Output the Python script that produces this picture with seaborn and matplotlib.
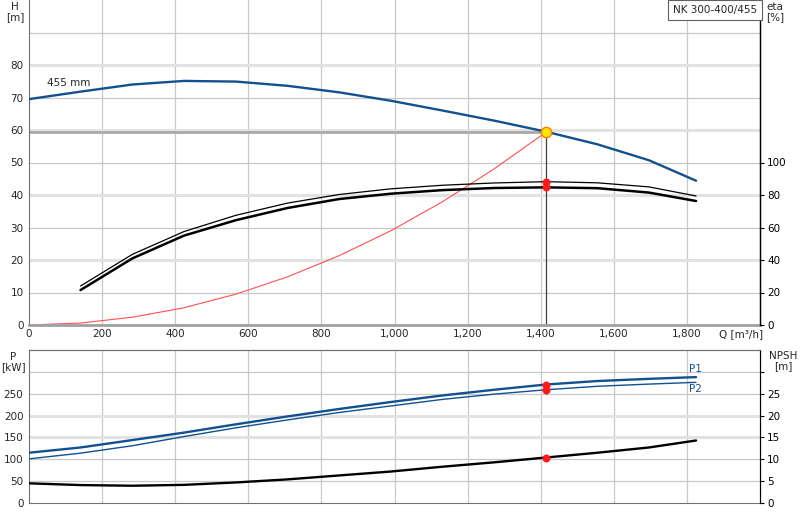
import matplotlib
matplotlib.use("Agg")
import matplotlib.pyplot as plt
import seaborn as sns
import pandas as pd
import numpy as np

# ---------------- data ----------------
q_pts = [0, 141, 283, 424, 566, 707, 848, 990, 1131, 1272, 1414, 1555, 1696, 1825]
head = [69.5, 71.8, 74.0, 75.1, 74.9, 73.6, 71.6, 69.0, 66.0, 62.9, 59.5, 55.6, 50.7, 44.4]

q_eta = [141, 283, 424, 566, 707, 848, 990, 1131, 1272, 1414, 1555, 1696, 1825]
eta_upper = [24.0, 43.5, 57.5, 67.5, 75.0, 80.3, 83.8, 86.0, 87.4, 88.2, 87.5, 85.0, 79.4]
eta_lower = [21.5, 41.0, 55.0, 64.5, 72.0, 77.5, 80.8, 83.0, 84.3, 84.7, 84.2, 81.5, 76.3]

q_sys = [0, 141, 283, 424, 566, 707, 848, 990, 1131, 1272, 1414]
h_sys = [0.0, 0.6, 2.4, 5.3, 9.5, 14.8, 21.3, 29.0, 37.9, 48.0, 59.3]

p1 = [115, 127, 144, 161, 180, 198, 215, 231, 246, 259, 271, 279, 284, 288]
p2 = [101, 114, 131, 152, 172, 190, 207, 222, 237, 249, 259, 267, 272, 276]
npsh = [4.5, 4.1, 3.95, 4.15, 4.7, 5.4, 6.3, 7.2, 8.3, 9.3, 10.4, 11.5, 12.7, 14.3]

duty_q = 1414
duty_h = 59.3
duty_eta = [88.2, 84.7]
duty_p = [271, 259]
duty_npsh = 10.4

q_ticks = [0, 200, 400, 600, 800, 1000, 1200, 1400, 1600, 1800]
h_ticks = [0, 10, 20, 30, 40, 50, 60, 70, 80, 90]
eta_ticks = [0, 20, 40, 60, 80, 100]
p_ticks = [0, 50, 100, 150, 200, 250, 300]
npsh_ticks = [0, 5, 10, 15, 20, 25, 30]

title = "NK 300-400/455"
curve_label = "455 mm"

# ---------------- style ----------------
sns.set_style("white")
plt.rcParams["font.family"] = ["DejaVu Sans"]
plt.rcParams["font.size"] = 7.5

BLUE = "#12508f"
GRID = "#c8c8c8"
GRID_LIGHT = "#e2e2e2"
SPINE = "#707070"

W, H = 800, 520
fig = plt.figure(figsize=(W / 100, H / 100), dpi=100)

def fx(px):
    return px / W

def fy(py):
    return 1 - py / H

left_px, right_px = 29, 760
ax1 = fig.add_axes([fx(left_px), fy(325), fx(right_px - left_px), 325 / H])
ax2 = fig.add_axes([fx(left_px), fy(503), fx(right_px - left_px), 153 / H])

df_h = pd.DataFrame({"Q": q_pts, "H": head})
df_sys = pd.DataFrame({"Q": q_sys, "H": h_sys})
df_eta = pd.DataFrame({"Q": q_eta, "up": eta_upper, "lo": eta_lower})
df_p = pd.DataFrame({"Q": q_pts, "P1": p1, "P2": p2, "NPSH": npsh})

# ---------------- top panel ----------------
ax1.set_xlim(0, 2000)
ax1.set_ylim(0, 100)
for x in q_ticks[1:]:
    ax1.axvline(x, color=GRID, lw=0.9, zorder=0)
for y in h_ticks[1:]:
    ax1.axhline(y, color=GRID, lw=0.9, zorder=0)
for y in [20, 40, 60, 80]:
    ax1.axhline(y, color=GRID_LIGHT, lw=2.2, zorder=0.5)

ax1r = ax1.twinx()
ax1r.set_ylim(0, 200)
ax1r.set_yticks(eta_ticks)
ax1r.set_yticklabels([str(t) for t in eta_ticks])
ax1r.tick_params(axis="y", length=3, width=0.8, pad=2, labelsize=7.5, colors="black")

# operating lines
ax1.plot([0, duty_q], [duty_h, duty_h], color="#a8a8a8", lw=2.0, zorder=1)
ax1.plot([duty_q, duty_q], [0, duty_h], color="#404040", lw=0.9, zorder=1)

sns.lineplot(data=df_sys, x="Q", y="H", ax=ax1, color="#ff5050", lw=0.8, zorder=2)
sns.lineplot(data=df_h, x="Q", y="H", ax=ax1, color=BLUE, lw=1.7, zorder=3)
sns.lineplot(data=df_eta, x="Q", y="up", ax=ax1r, color="black", lw=0.9, zorder=3)
sns.lineplot(data=df_eta, x="Q", y="lo", ax=ax1r, color="black", lw=1.8, zorder=3)
sns.scatterplot(x=[duty_q, duty_q], y=duty_eta, ax=ax1r, color="#ff1a1a", s=28,
                edgecolor="#ff1a1a", zorder=5)
sns.scatterplot(x=[duty_q], y=[duty_h], ax=ax1, color="#ffe600", s=55,
                edgecolor="#ff7a00", linewidth=1.0, zorder=6)

ax1.set_xticks(q_ticks)
ax1.set_xticklabels([f"{t:,}" for t in q_ticks])
ax1.set_yticks(h_ticks)
ax1.set_yticklabels([str(t) if t < 90 else "" for t in h_ticks])
ax1.tick_params(axis="x", length=0, pad=3, labelsize=7.5)
ax1.tick_params(axis="y", length=0, pad=4, labelsize=7.5)
ax1.set_xlabel("")
ax1.set_ylabel("")
ax1r.set_ylabel("")
ax1r.set_xlabel("")
for a in (ax1, ax1r):
    a.spines["top"].set_visible(False)
ax1.spines["left"].set_color(SPINE)
ax1.spines["bottom"].set_color("#a0a0a0")
ax1.spines["bottom"].set_linewidth(2.0)
ax1r.spines["left"].set_visible(False)
ax1r.spines["bottom"].set_visible(False)
ax1r.spines["right"].set_color("black")
ax1r.spines["right"].set_linewidth(1.0)

ax1.text(50, 74.6, curve_label, fontsize=7.5, ha="left", va="center", zorder=7)
fig.text(fx(757), fy(10), title, ha="right", va="center", fontsize=7.5, zorder=8,
         bbox=dict(boxstyle="square,pad=0.45", fc="white", ec="#606060", lw=0.8))

fig.text(fx(741), fy(334), "Q [m³/h]", ha="center", va="center", fontsize=7.5)
fig.text(fx(15), fy(12), "H\n[m]", ha="center", va="center", fontsize=7.5, linespacing=1.1)
fig.text(fx(775), fy(12), "eta\n[%]", ha="center", va="center", fontsize=7.5, linespacing=1.1)

# ---------------- bottom panel ----------------
ax2.set_xlim(0, 2000)
ax2.set_ylim(0, 350)
for x in q_ticks[1:]:
    ax2.axvline(x, color=GRID, lw=0.9, zorder=0)
for y in p_ticks[1:]:
    ax2.axhline(y, color=GRID, lw=0.9, zorder=0)
for y in [150, 200]:
    ax2.axhline(y, color=GRID_LIGHT, lw=2.2, zorder=0.5)

ax2r = ax2.twinx()
ax2r.set_ylim(0, 35)
ax2r.set_yticks(npsh_ticks)
ax2r.set_yticklabels([str(t) if t < 30 else "" for t in npsh_ticks])
ax2r.tick_params(axis="y", length=3, width=0.8, pad=2, labelsize=7.5, colors="black")

sns.lineplot(data=df_p, x="Q", y="P1", ax=ax2, color=BLUE, lw=1.7, zorder=3)
sns.lineplot(data=df_p, x="Q", y="P2", ax=ax2, color=BLUE, lw=1.0, zorder=3)
sns.lineplot(data=df_p, x="Q", y="NPSH", ax=ax2r, color="black", lw=1.7, zorder=3)
sns.scatterplot(x=[duty_q, duty_q], y=duty_p, ax=ax2, color="#ff1a1a", s=28,
                edgecolor="#ff1a1a", zorder=5)
sns.scatterplot(x=[duty_q], y=[duty_npsh], ax=ax2r, color="#ff1a1a", s=28,
                edgecolor="#ff1a1a", zorder=5)

ax2.text(1806, 307, "P1", color=BLUE, fontsize=7.5, ha="left", va="center")
ax2.text(1806, 261, "P2", color=BLUE, fontsize=7.5, ha="left", va="center")

ax2.set_xticks(q_ticks)
ax2.set_xticklabels([])
ax2.set_yticks(p_ticks)
ax2.set_yticklabels([str(t) if t < 300 else "" for t in p_ticks])
ax2.tick_params(axis="x", length=0)
ax2.tick_params(axis="y", length=0, pad=4, labelsize=7.5)
for a in (ax2, ax2r):
    a.set_xlabel("")
    a.set_ylabel("")
    a.spines["top"].set_color(SPINE)
ax2.spines["left"].set_color(SPINE)
ax2.spines["bottom"].set_color(SPINE)
ax2r.spines["left"].set_visible(False)
ax2r.spines["bottom"].set_visible(False)
ax2r.spines["right"].set_color("black")

fig.text(fx(13), fy(362), "P\n[kW]", ha="center", va="center", fontsize=7.5, linespacing=1.1)
fig.text(fx(783), fy(361), "NPSH\n[m]", ha="center", va="center", fontsize=7.5, linespacing=1.1)

fig.savefig("out.png", dpi=100)
